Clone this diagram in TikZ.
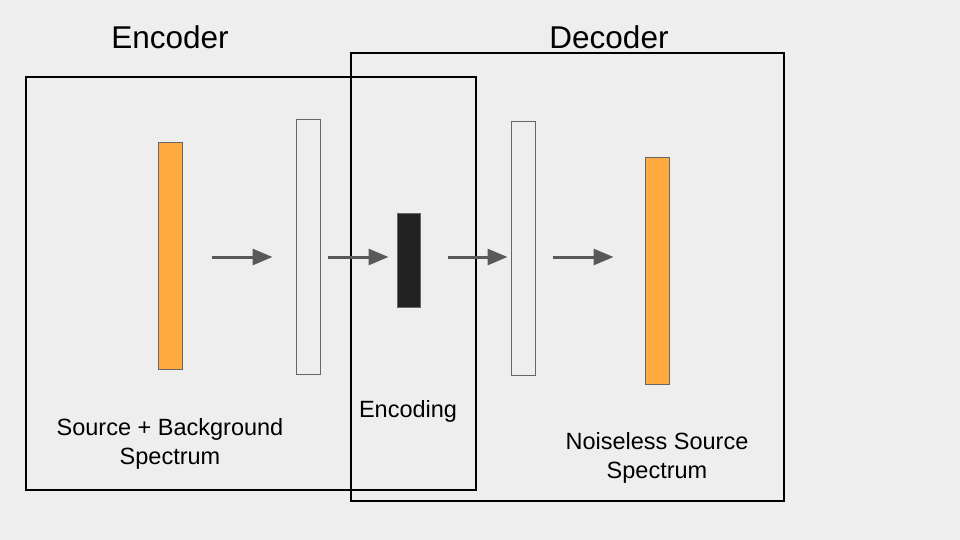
\documentclass[tikz,border=0pt]{standalone}
\usepackage{fontspec}
\setmainfont{Liberation Sans}
\usetikzlibrary{arrows.meta}
\definecolor{slidebg}{HTML}{EEEEEE}
\definecolor{barorange}{HTML}{FFAB40}
\definecolor{bargray}{HTML}{666666}
\definecolor{codeblack}{HTML}{212121}
\definecolor{arrowgray}{HTML}{595959}
\tikzset{
  bar/.style={draw=bargray, line width=1pt, minimum width=24pt, inner sep=0pt},
  orangebar/.style={bar, fill=barorange, minimum height=226pt},
  hiddenbar/.style={bar, fill=slidebg, minimum height=254pt},
  codebar/.style={bar, fill=codeblack, minimum width=23pt, minimum height=94pt},
  frame/.style={draw=black, line width=1.5pt, inner sep=0pt},
  arr/.style={draw=arrowgray, line width=3pt, -{Triangle[length=20pt,width=16pt]}},
  title/.style={font=\fontsize{31.5}{36}\selectfont, anchor=base},
  lbl/.style={font=\fontsize{23.5}{29}\selectfont, align=center, anchor=base}
}
\begin{document}
\begin{tikzpicture}[x=1pt, y=-1pt]
      \fill[slidebg] (0,0) rectangle (960,540);
      \useasboundingbox (0,0) rectangle (960,540);
      % boxes
      \node[frame, minimum width=450pt, minimum height=413pt] (encbox) at (251,283.5) {};
      \node[frame, minimum width=433pt, minimum height=448pt] (decbox) at (567.5,277) {};
      \node[title] (enctitle) at (170,49) {Encoder};
      \node[title] (dectitle) at (609,49) {Decoder};
      % layers
      \node[orangebar] (in) at (170,256) {};
      \node[hiddenbar] (hid1) at (308,247) {};
      \node[codebar] (code) at (408.5,260) {};
      \node[hiddenbar] (hid2) at (523,248.5) {};
      \node[orangebar] (out) at (657,271) {};
      \coordinate (axis) at (0,257);
      \begin{scope}
        \draw[arr, shorten <=29pt, shorten >=23pt] (in.east |- axis) -- (hid1.west |- axis);
        \draw[arr, shorten <=7pt, shorten >=8pt] (hid1.east |- axis) -- (code.west |- axis);
        \draw[arr, shorten <=27pt, shorten >=3pt] (code.east |- axis) -- (hid2.west |- axis);
        \draw[arr, shorten <=17pt, shorten >=31pt] (hid2.east |- axis) -- (out.west |- axis);
      \end{scope}
      % labels
      \node[lbl] (inlbl) at (170,464) {Source + Background\\Spectrum};
      \node[lbl] (codelbl) at (408,417) {Encoding};
      \node[lbl] (outlbl) at (657,478) {Noiseless Source\\Spectrum};
    \end{tikzpicture}
\end{document}
